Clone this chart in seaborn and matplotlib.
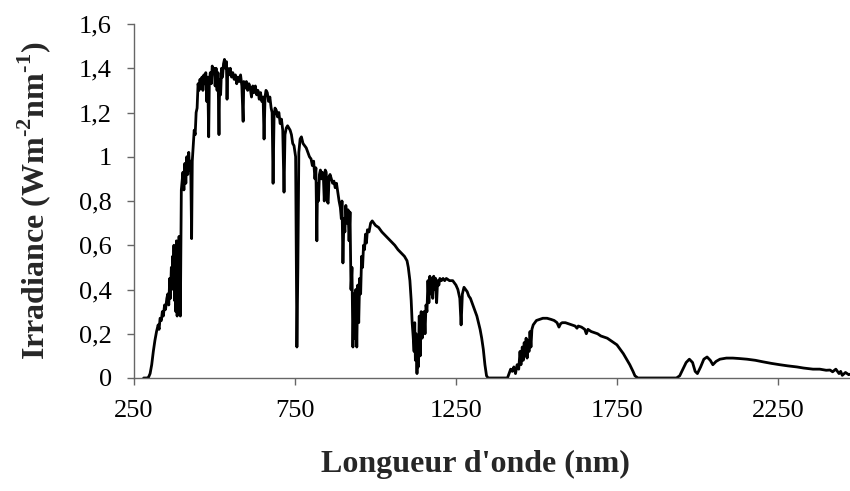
import numpy as np
import pandas as pd
import matplotlib
matplotlib.use("Agg")
import matplotlib.pyplot as plt
import seaborn as sns

# ---- data (wavelength nm, irradiance W m-2 nm-1) ----
wavelength = [
    280, 290, 295, 300, 305, 310, 315, 320, 325, 328, 331, 335, 338, 341, 345, 348,
    352, 355, 358, 361, 363, 366, 368, 370, 372, 374, 376, 378, 380, 382, 384, 386,
    388, 390, 392, 394, 397, 399, 402, 405, 408, 411, 414, 417, 420, 423, 426, 429,
    431, 434, 437, 440, 443, 446, 449, 452, 455, 458, 461, 464, 467, 470, 473, 476,
    479, 482, 484, 487, 490, 493, 496, 499, 502, 505, 508, 511, 514, 516, 519, 522,
    525, 528, 531, 534, 537, 539, 541, 545, 549, 553, 557, 561, 565, 569, 573, 577,
    581, 585, 589, 591, 595, 599, 603, 607, 611, 615, 619, 623, 627, 631, 635, 639,
    643, 647, 651, 654, 657, 660, 664, 668, 672, 676, 679, 682, 685, 688, 692, 696,
    700, 704, 708, 712, 716, 719, 723, 727, 731, 735, 739, 743, 747, 752, 756, 759,
    762, 766, 770, 775, 780, 785, 790, 795, 800, 804, 808, 812, 815, 818, 820, 823,
    826, 829, 832, 835, 838, 841, 844, 847, 850, 853, 856, 859, 863, 867, 871, 875,
    879, 883, 887, 891, 894, 896, 899, 902, 905, 908, 911, 915, 918, 921, 924, 927,
    930, 933, 936, 939, 942, 945, 948, 951, 954, 957, 960, 963, 966, 969, 972, 975,
    980, 985, 990, 995, 1000, 1010, 1020, 1030, 1040, 1050, 1060, 1070, 1080, 1090, 1098, 1102,
    1107, 1111, 1114, 1117, 1120, 1122, 1124, 1126, 1129, 1131, 1133, 1136, 1139, 1142, 1145, 1148,
    1151, 1154, 1157, 1160, 1163, 1166, 1169, 1172, 1175, 1178, 1181, 1184, 1187, 1190, 1193, 1197,
    1200, 1205, 1210, 1215, 1220, 1230, 1240, 1250, 1256, 1262, 1266, 1270, 1275, 1280, 1285, 1290,
    1295, 1300, 1305, 1310, 1315, 1320, 1325, 1330, 1335, 1340, 1345, 1350, 1410, 1415, 1420, 1425,
    1430, 1435, 1440, 1445, 1449, 1452, 1456, 1459, 1462, 1465, 1468, 1471, 1474, 1477, 1480, 1483,
    1486, 1490, 1495, 1500, 1510, 1520, 1533, 1545, 1555, 1564, 1570, 1575, 1580, 1590, 1600, 1610,
    1620, 1626, 1630, 1640, 1650, 1655, 1660, 1670, 1680, 1690, 1700, 1710, 1720, 1730, 1740, 1750,
    1760, 1770, 1780, 1790, 1800, 1806, 1815, 1935, 1945, 1955, 1965, 1975, 1985, 1993, 2000, 2010,
    2020, 2030, 2040, 2048, 2058, 2070, 2090, 2110, 2130, 2154, 2180, 2204, 2230, 2256, 2280, 2309,
    2330, 2359, 2380, 2400, 2412, 2420, 2430, 2440, 2445, 2450, 2460, 2470, 2480,
]
irradiance = [
    0.0, 0.0, 0.003, 0.02, 0.06, 0.12, 0.17, 0.21, 0.24, 0.22, 0.27, 0.26, 0.30, 0.28, 0.33, 0.31,
    0.36, 0.38, 0.33, 0.45, 0.36, 0.50, 0.42, 0.55, 0.40, 0.60, 0.35, 0.55, 0.30, 0.62, 0.28, 0.58,
    0.32, 0.64, 0.45, 0.28, 0.85, 0.88, 0.93, 0.85, 0.97, 0.88, 1.00, 0.92, 1.02, 0.94, 0.98, 0.63,
    0.98, 1.05, 1.12, 1.10, 1.20, 1.22, 1.33, 1.30, 1.35, 1.31, 1.36, 1.30, 1.37, 1.33, 1.38, 1.25,
    1.36, 1.09, 1.34, 1.38, 1.33, 1.41, 1.38, 1.40, 1.32, 1.40, 1.30, 1.38, 1.10, 1.35, 1.28, 1.40,
    1.36, 1.42, 1.44, 1.40, 1.43, 1.26, 1.40, 1.37, 1.40, 1.36, 1.38, 1.35, 1.37, 1.33, 1.36, 1.34,
    1.37, 1.32, 1.16, 1.34, 1.31, 1.34, 1.30, 1.33, 1.31, 1.27, 1.32, 1.29, 1.32, 1.28, 1.30, 1.26,
    1.29, 1.25, 1.27, 1.08, 1.27, 1.30, 1.29, 1.25, 1.27, 1.22, 1.20, 0.88, 1.18, 1.22, 1.21, 1.18,
    1.20, 1.15, 1.17, 1.12, 0.84, 1.10, 1.13, 1.14, 1.13, 1.12, 1.10, 1.06, 1.05, 1.00, 0.14, 0.50,
    1.02, 1.08, 1.09, 1.06, 1.05, 1.04, 1.02, 1.00, 0.99, 0.96, 0.98, 0.90, 0.95, 0.62, 0.88, 0.80,
    0.92, 0.94, 0.90, 0.93, 0.92, 0.80, 0.94, 0.93, 0.80, 0.79, 0.91, 0.92, 0.90, 0.88, 0.89, 0.86,
    0.88, 0.84, 0.80, 0.77, 0.72, 0.80, 0.52, 0.72, 0.66, 0.78, 0.70, 0.76, 0.62, 0.75, 0.40, 0.50,
    0.14, 0.38, 0.18, 0.40, 0.14, 0.42, 0.25, 0.45, 0.38, 0.55, 0.50, 0.60, 0.58, 0.65, 0.61, 0.67,
    0.66, 0.70, 0.71, 0.70, 0.69, 0.68, 0.66, 0.645, 0.63, 0.615, 0.60, 0.58, 0.565, 0.55, 0.53, 0.50,
    0.44, 0.35, 0.25, 0.19, 0.12, 0.25, 0.08, 0.20, 0.02, 0.15, 0.05, 0.28, 0.10, 0.30, 0.18, 0.22,
    0.30, 0.20, 0.33, 0.30, 0.44, 0.34, 0.46, 0.38, 0.45, 0.36, 0.46, 0.40, 0.45, 0.34, 0.44, 0.42,
    0.45, 0.44, 0.45, 0.44, 0.45, 0.44, 0.44, 0.42, 0.40, 0.36, 0.24, 0.38, 0.41, 0.40, 0.39, 0.37,
    0.36, 0.34, 0.32, 0.30, 0.28, 0.25, 0.22, 0.18, 0.13, 0.06, 0.01, 0.0, 0.0, 0.02, 0.04, 0.03,
    0.05, 0.02, 0.06, 0.04, 0.12, 0.06, 0.14, 0.08, 0.16, 0.10, 0.18, 0.09, 0.17, 0.12, 0.21, 0.14,
    0.22, 0.24, 0.25, 0.26, 0.265, 0.27, 0.27, 0.265, 0.26, 0.25, 0.23, 0.245, 0.25, 0.25, 0.245, 0.24,
    0.235, 0.225, 0.235, 0.23, 0.22, 0.20, 0.22, 0.21, 0.205, 0.20, 0.19, 0.185, 0.18, 0.17, 0.16, 0.15,
    0.13, 0.11, 0.085, 0.06, 0.03, 0.01, 0.0, 0.0, 0.01, 0.04, 0.07, 0.085, 0.07, 0.03, 0.02, 0.05,
    0.085, 0.095, 0.08, 0.06, 0.075, 0.085, 0.09, 0.09, 0.088, 0.085, 0.08, 0.073, 0.066, 0.06, 0.055, 0.05,
    0.045, 0.04, 0.04, 0.035, 0.036, 0.028, 0.040, 0.02, 0.03, 0.012, 0.025, 0.015, 0.02,
]

x_ticks = [250, 750, 1250, 1750, 2250]
x_tick_labels = ["250", "750", "1250", "1750", "2250"]
y_ticks = [0, 0.2, 0.4, 0.6, 0.8, 1.0, 1.2, 1.4, 1.6]
y_tick_labels = ["0", "0,2", "0,4", "0,6", "0,8", "1", "1,2", "1,4", "1,6"]

x_label = "Longueur d'onde (nm)"
y_label = "Irradiance (Wm$^{\\mathregular{\u20102}}$nm$^{\\mathregular{\u20101}}$)"

df = pd.DataFrame({"wl": wavelength, "irr": irradiance})

sns.set_style("ticks")
plt.rcParams["font.family"] = ["Liberation Serif", "DejaVu Serif"]
plt.rcParams["mathtext.fontset"] = "custom"
plt.rcParams["mathtext.rm"] = "Liberation Serif:bold"

W, H = 850, 491
fig = plt.figure(figsize=(W / 100, H / 100), dpi=100)
ax = fig.add_axes([134 / W, (H - 378) / H, (W - 134) / W, 354 / H])

sns.lineplot(data=df, x="wl", y="irr", ax=ax, color="black", linewidth=2.0,
             estimator=None, sort=False)

ax.set_xlim(250, 2474)
ax.set_ylim(0, 1.6)
ax.set_xticks(x_ticks)
ax.set_xticklabels(x_tick_labels)
ax.set_yticks(y_ticks)
ax.set_yticklabels(y_tick_labels)

for s in ["top", "right"]:
    ax.spines[s].set_visible(False)
for s in ["left", "bottom"]:
    ax.spines[s].set_color("#666666")
    ax.spines[s].set_linewidth(1.0)
ax.tick_params(axis="both", colors="#666666", labelcolor="black", labelsize=19,
               length=5, width=1.0, direction="out")
ax.tick_params(axis="x", pad=11)
ax.tick_params(axis="y", pad=11)

ax.set_xlabel(x_label, fontsize=23, fontweight="bold", va="center")
ax.set_ylabel(y_label, fontsize=23, fontweight="bold", va="center")
ax.xaxis.set_label_coords((475 - 134) / (W - 134), (378 - 464) / 354)
ax.yaxis.set_label_coords((34 - 134) / (W - 134), 0.5)
ax.grid(False)

fig.savefig("out.png", dpi=100)
